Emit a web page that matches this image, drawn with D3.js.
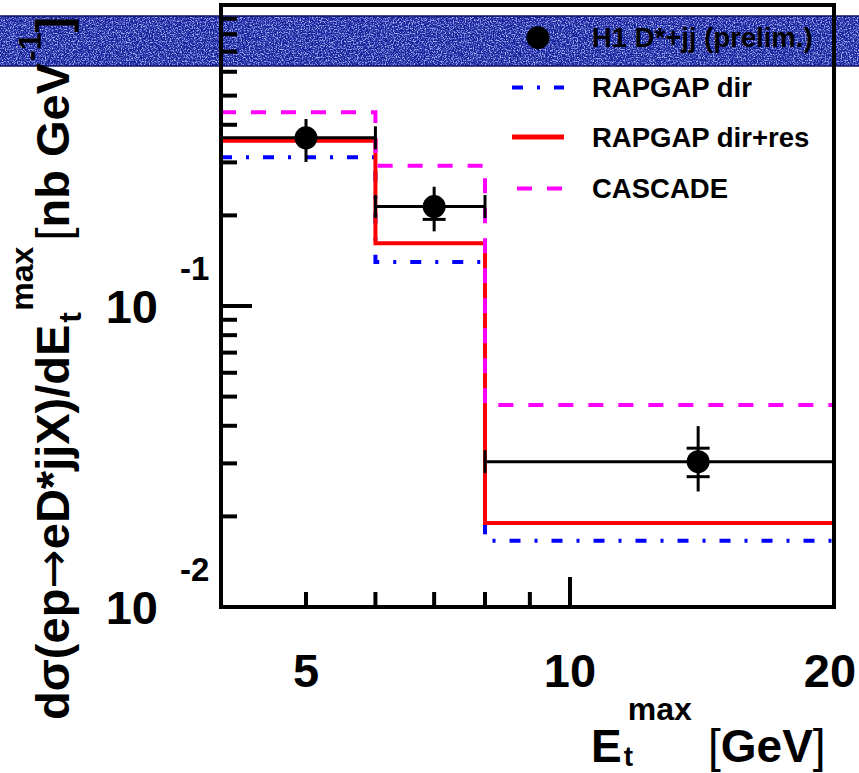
<!DOCTYPE html>
<html><head><meta charset="utf-8">
<script src="https://cdn.jsdelivr.net/npm/d3@7"></script>
<style>
body{margin:0;background:#fff}
svg{display:block}
text{font-family:"Liberation Sans",Arial,Helvetica,sans-serif;font-weight:bold;fill:#000}
</style>
</head><body>
<svg id="c" width="859" height="773"></svg>
<script>
// ---------------- data ----------------
const binEdges = [4, 6, 8, 20];
const dataX = [5, 7, 14];
const dataY = [0.362, 0.214, 0.0304];
const statErr = [0.020, 0.020, 0.0033];
const totErrUp = [0.056, 0.035, 0.0095];
const totErrDown = [0.061, 0.037, 0.0062];
const rapgapDir = [0.312, 0.140, 0.0166];
const rapgapDirRes = [0.354, 0.1616, 0.0190];
const cascade = [0.440, 0.2925, 0.0469];
const xMinorTicks = [5, 6, 7, 8, 9];
const xMajorTicks = [10];
const xTickLabels = ["5", "10", "20"];
const xTickValues = [5, 10, 20];
const yTickBases = ["10", "10"];
const yTickExps = ["-1", "-2"];
const yTickValues = [0.1, 0.01];
const legendLabels = ["H1 D*+jj (prelim.)", "RAPGAP dir", "RAPGAP dir+res", "CASCADE"];

// ---------------- styles ----------------
const models = [
  {vals: rapgapDir, color: "#0000ff", dash: "11,14,3,14"},
  {vals: rapgapDirRes, color: "#ff0000", dash: null},
  {vals: cascade, color: "#ff00ff", dash: "15,15"}
];

const svg = d3.select("#c");
const X0 = 221, X1 = 834, Y0 = 607, Y1 = 5;
const x = d3.scaleLog().domain([4, 20]).range([X0, X1]);
const y = d3.scaleLog().domain([0.01, 1]).range([Y0, Y1]);

// ---------------- textured band ----------------
const defs = svg.append("defs");
const f = defs.append("filter").attr("id", "grain")
  .attr("x", 0).attr("y", 0).attr("width", 1).attr("height", 1);
f.append("feTurbulence").attr("type", "fractalNoise").attr("baseFrequency", 0.75)
  .attr("numOctaves", 2).attr("seed", 5).attr("result", "n");
f.append("feColorMatrix").attr("in", "n").attr("type", "matrix")
  .attr("values", "0 0 0 0 0.38  0 0 0 0 0.45  0 0 0 0 0.94  3.5 0 0 0 -1.55");
svg.append("rect").attr("x", 0).attr("y", 16).attr("width", 859).attr("height", 50)
  .attr("fill", "#17229b");
svg.append("rect").attr("x", 0).attr("y", 16).attr("width", 859).attr("height", 50)
  .attr("fill", "#fff").attr("filter", "url(#grain)");
[16, 66].forEach(yy => svg.append("line").attr("x1", 0).attr("x2", 859)
  .attr("y1", yy).attr("y2", yy).attr("stroke", "#0a1060").attr("stroke-width", 1.5));

// ---------------- model histograms ----------------
function stepPath(vals) {
  const p = d3.path();
  p.moveTo(x(binEdges[0]), y(vals[0]));
  vals.forEach((v, i) => {
    p.lineTo(x(binEdges[i]), y(v));
    p.lineTo(x(binEdges[i + 1]), y(v));
  });
  return p.toString();
}
models.forEach(m => {
  const el = svg.append("path").attr("d", stepPath(m.vals)).attr("fill", "none")
    .attr("stroke", m.color).attr("stroke-width", 4);
  if (m.dash) el.attr("stroke-dasharray", m.dash);
});

// ---------------- data points ----------------
const R = 11.5, CAP = 11.5;
const gd = svg.append("g").attr("stroke", "#000").attr("stroke-width", 3);
dataY.forEach((v, i) => {
  const cy = y(v), cx = x(dataX[i]);
  gd.append("line").attr("x1", x(binEdges[i])).attr("x2", x(binEdges[i + 1]))
    .attr("y1", cy).attr("y2", cy);
  [binEdges[i], binEdges[i + 1]].forEach(e => gd.append("line")
    .attr("x1", x(e)).attr("x2", x(e)).attr("y1", cy - CAP).attr("y2", cy + CAP));
  gd.append("line").attr("x1", cx).attr("x2", cx)
    .attr("y1", y(v + totErrUp[i])).attr("y2", y(v - totErrDown[i]));
  [v + statErr[i], v - statErr[i]].forEach(sv => {
    const sy = y(sv);
    if (Math.abs(sy - cy) > R + 1) gd.append("line").attr("x1", cx - CAP).attr("x2", cx + CAP)
      .attr("y1", sy).attr("y2", sy);
  });
  svg.append("circle").attr("cx", cx).attr("cy", cy).attr("r", R).attr("fill", "#000");
});

// ---------------- axes ----------------
const ga = svg.append("g").attr("stroke", "#000").attr("stroke-width", 4);
y.ticks().forEach(t => {
  const major = Math.abs(Math.log10(t) - Math.round(Math.log10(t))) < 1e-9;
  ga.append("line").attr("x1", X0).attr("x2", X0 + (major ? 31 : 16))
    .attr("y1", y(t)).attr("y2", y(t));
});
xMinorTicks.forEach(t => ga.append("line").attr("x1", x(t)).attr("x2", x(t))
  .attr("y1", Y0).attr("y2", Y0 - 15));
xMajorTicks.forEach(t => ga.append("line").attr("x1", x(t)).attr("x2", x(t))
  .attr("y1", Y0).attr("y2", Y0 - 30));
svg.append("rect").attr("x", X0).attr("y", Y1).attr("width", X1 - X0).attr("height", Y0 - Y1)
  .attr("fill", "none").attr("stroke", "#000").attr("stroke-width", 4);

xTickValues.forEach((t, i) => svg.append("text").attr("x", x(t) - (i === 2 ? 4 : 0)).attr("y", 687)
  .attr("text-anchor", "middle").attr("font-size", 47).text(xTickLabels[i]));
yTickValues.forEach((t, i) => {
  svg.append("text").attr("x", 158).attr("y", y(t) + 17).attr("text-anchor", "end")
    .attr("font-size", 47).text(yTickBases[i]);
  svg.append("text").attr("x", 180).attr("y", y(t) - 26).attr("font-size", 33).text(yTickExps[i]);
});

// ---------------- axis titles ----------------
{
  const e = svg.append("text").attr("x", 591).attr("y", 762).attr("font-size", 46).text("E");
  const ew = e.node().getComputedTextLength();
  svg.append("text").attr("x", 591 + ew + 2).attr("y", 766).attr("font-size", 28).text("t");
  svg.append("text").attr("x", 591 + ew + 6).attr("y", 720).attr("font-size", 32).text("max");
  const g = svg.append("text").attr("x", 708).attr("y", 762).attr("font-size", 46);
  g.append("tspan").attr("font-weight", "normal").text("[");
  g.append("tspan").text("GeV");
  g.append("tspan").attr("font-weight", "normal").text("]");
}
{
  const gT = svg.append("g").attr("transform", "translate(69,720) rotate(-90)");
  let cx = 0;
  const a = gT.append("text").attr("x", 0).attr("y", 0).attr("font-size", 47);
  a.append("tspan").text("dσ(ep");
  a.append("tspan").attr("font-family", "DejaVu Sans").attr("font-weight", "normal").text("→");
  a.append("tspan").text("eD*jjX)/dE");
  cx += a.node().getComputedTextLength();
  gT.append("text").attr("x", cx + 2).attr("y", 12).attr("font-size", 32).text("t");
  const sp = gT.append("text").attr("x", cx + 14).attr("y", -36).attr("font-size", 32).text("max");
  cx += 14 + sp.node().getComputedTextLength() + 6;
  const b = gT.append("text").attr("x", cx).attr("y", 0).attr("font-size", 47);
  b.append("tspan").attr("font-weight", "normal").text("[");
  b.append("tspan").text("nb GeV");
  cx += b.node().getComputedTextLength();
  const s2 = gT.append("text").attr("x", cx + 2).attr("y", -28).attr("font-size", 32).text("-1");
  cx += 2 + s2.node().getComputedTextLength();
  gT.append("text").attr("x", cx).attr("y", 0).attr("font-size", 47)
    .attr("font-weight", "normal").text("]");
}

// ---------------- legend ----------------
const legY = [37.7, 87.5, 137, 188.5];
legendLabels.forEach((lab, i) => {
  const ly = legY[i];
  if (i === 0) {
    svg.append("circle").attr("cx", 538).attr("cy", ly).attr("r", R).attr("fill", "#000");
  } else {
    const m = models[i - 1];
    const l = svg.append("line").attr("x1", 512).attr("x2", 564).attr("y1", ly).attr("y2", ly)
      .attr("stroke", m.color).attr("stroke-width", i === 2 ? 5 : 4);
    if (m.dash) l.attr("stroke-dasharray", m.dash);
    if (i === 3) l.attr("stroke-dashoffset", 25);
  }
  svg.append("text").attr("x", 592).attr("y", ly + 9.5).attr("font-size", 27.5).text(lab);
});
</script>
</body></html>
